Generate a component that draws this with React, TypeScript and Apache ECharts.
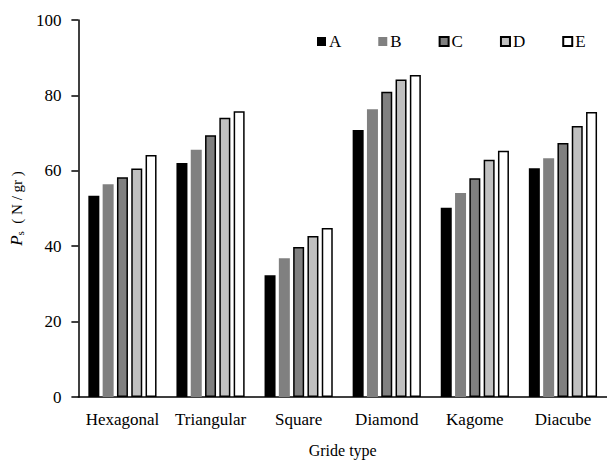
import React, { useEffect, useRef } from "react";
import * as echarts from "echarts";

const categories = ["Hexagonal", "Triangular", "Square", "Diamond", "Kagome", "Diacube"];
const seriesNames = ["A", "B", "C", "D", "E"];
const valuesA = [53.4, 62.1, 32.3, 70.8, 50.2, 60.7];
const valuesB = [56.4, 65.6, 36.8, 76.3, 54.1, 63.3];
const valuesC = [58.3, 69.4, 39.8, 81.0, 58.0, 67.4];
const valuesD = [60.6, 74.1, 42.7, 84.2, 62.9, 71.9];
const valuesE = [64.2, 75.8, 44.8, 85.4, 65.3, 75.6];
const yTicks = [0, 20, 40, 60, 80, 100];

const FONT = "'Liberation Serif', 'Times New Roman', serif";

export default function App() {
  const ref = useRef<HTMLDivElement>(null);
  useEffect(() => {
    if (!ref.current) return;
    const chart = echarts.init(ref.current, undefined, { renderer: "svg" });
    const allValues = [valuesA, valuesB, valuesC, valuesD, valuesE];
    const styles = [
      { color: "#000000", borderWidth: 0 },
      { color: "#808080", borderWidth: 0 },
      { color: "#808080", borderColor: "#000000", borderWidth: 1.5 },
      { color: "#c0c0c0", borderColor: "#000000", borderWidth: 1.5 },
      { color: "#ffffff", borderColor: "#000000", borderWidth: 1.5 },
    ];
    chart.setOption({
      animation: false,
      textStyle: { fontFamily: FONT, color: "#000" },
      legend: {
        left: 312,
        top: 28,
        itemWidth: 9,
        itemHeight: 9,
        itemGap: 37,
        icon: "rect",
        textStyle: { fontFamily: FONT, fontSize: 17, color: "#000", padding: [0, 0, 0, -2] },
        data: seriesNames,
      },
      grid: { left: 71, right: -10, top: 20, bottom: 58.5, containLabel: false },
      xAxis: {
        type: "category",
        data: categories,
        name: "Gride type",
        nameLocation: "middle",
        nameGap: 45,
        nameTextStyle: { fontFamily: FONT, fontSize: 16, color: "#000" },
        axisLine: { lineStyle: { color: "#000", width: 1.5 } },
        axisTick: { show: false },
        axisLabel: { fontFamily: FONT, fontSize: 17, color: "#000", margin: 14, interval: 0 },
      },
      yAxis: {
        type: "value",
        min: yTicks[0],
        max: yTicks[yTicks.length - 1],
        interval: yTicks[1] - yTicks[0],
        name: "{i|P}{sub|s}{n|  ( N / gr )}",
        nameLocation: "middle",
        nameGap: 50,
        nameRotate: 90,
        nameTextStyle: {
          fontFamily: FONT,
          color: "#000",
          rich: {
            i: { fontFamily: FONT, fontStyle: "italic", fontSize: 17, color: "#000" },
            sub: { fontFamily: FONT, fontSize: 11, color: "#000", verticalAlign: "bottom", padding: [6, 0, 0, 0] },
            n: { fontFamily: FONT, fontSize: 15, color: "#000" },
          },
        },
        axisLine: { show: true, lineStyle: { color: "#000", width: 1.5 } },
        axisTick: { show: true, length: 7, lineStyle: { color: "#000", width: 1.5 } },
        splitLine: { show: false },
        axisLabel: { fontFamily: FONT, fontSize: 17, color: "#000", margin: 17 },
      },
      series: seriesNames.map((name, i) => ({
        name,
        type: "bar",
        data: allValues[i],
        barWidth: 11,
        barGap: "30%",
        itemStyle: styles[i],
      })),
    });
    return () => chart.dispose();
  }, []);
  return (
    <div
      ref={ref}
      style={{ position: "absolute", left: 0, top: 0, width: 607, height: 463, overflow: "hidden" }}
    />
  );
}
